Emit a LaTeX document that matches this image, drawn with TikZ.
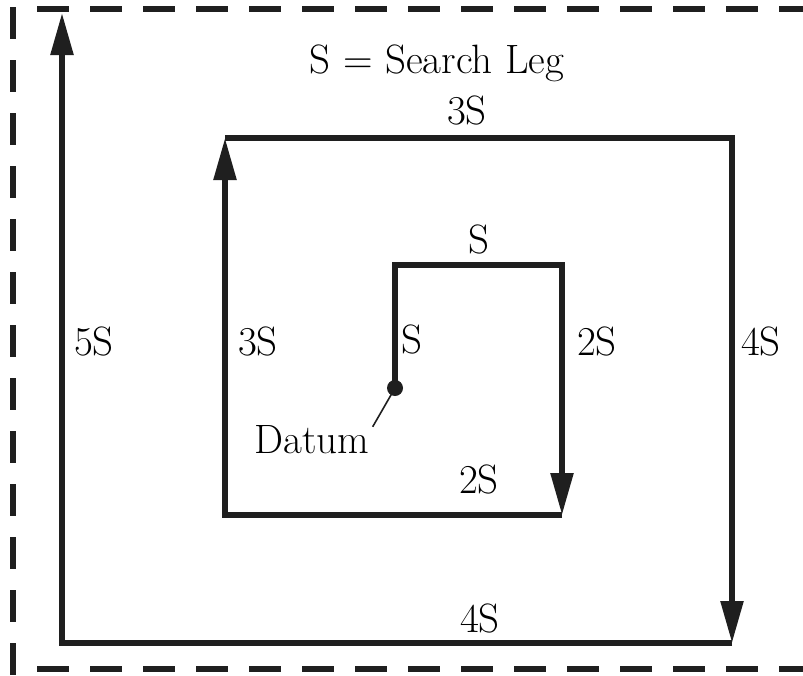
\documentclass[tikz,border=0pt]{standalone}
\usepackage{tikz}
\usetikzlibrary{arrows.meta,positioning,calc}
\tikzset{
  leg/.style={draw=black!88, line width=5.5pt, line join=miter},
  legar/.style={leg, -{Triangle[length=42pt,width=22pt]}},
  area/.style={draw=black!88, line width=5.5pt, dash pattern=on 32pt off 21pt},
  lbl/.style={anchor=base, inner sep=0pt, font=\fontsize{41}{50}\selectfont}
}

\begin{document}
\begin{tikzpicture}[x=1pt, y=-1pt,
  leader/.style={draw=black!88, line width=1.6pt},
  dot/.style={circle, fill=black!88, inner sep=0pt, minimum size=16pt}
]
\useasboundingbox (0,0) rectangle (803,675);
% search area boundary (open on the right)
\draw[area] (13,7) -- (13,675);
\draw[area] (37,9) -- (803,9);
\draw[area] (37,669) -- (803,669);
% corners of the expanding square
\node[dot] (dt) at (395,388) {};
\coordinate (c1) at (395,265);
\coordinate (c2) at (562,265);
\coordinate (c3) at (562,515);
\coordinate (c4) at (225,515);
\coordinate (c5) at (225,138);
\coordinate (c6) at (732,138);
\coordinate (c7) at (732,643);
\coordinate (c8) at (62,643);
\coordinate (c9) at (62,13);
\draw[legar] (dt.center) -- (c1) -- (c2) -- (c3);
\draw[legar] (c3) -- (c4) -- (c5);
\draw[legar] (c5) -- (c6) -- (c7);
\draw[legar] (c7) -- (c8) -- (c9);
% leg labels
\node[lbl] (key) at (437,73) {S = Search Leg};
\node[lbl] (l3top) at (467,124) {3S};
\node[lbl] (l1top) at (479,253) {S};
\node[lbl] (l5) at (94,355) {5S};
\node[lbl] (l3left) at (258,355) {3S};
\node[lbl] (l1left) at (412,353) {S};
\node[lbl] (l2right) at (597,355) {2S};
\node[lbl] (l4right) at (761,355) {4S};
\node[lbl] (l2bot) at (479,493) {2S};
\node[lbl] (l4bot) at (480,632) {4S};
\node[lbl] (datumlbl) at (312,453) {Datum};
\draw[leader] (dt.center) -- ([xshift=3pt,yshift=-2pt]datumlbl.north east);
\end{tikzpicture}
\end{document}
